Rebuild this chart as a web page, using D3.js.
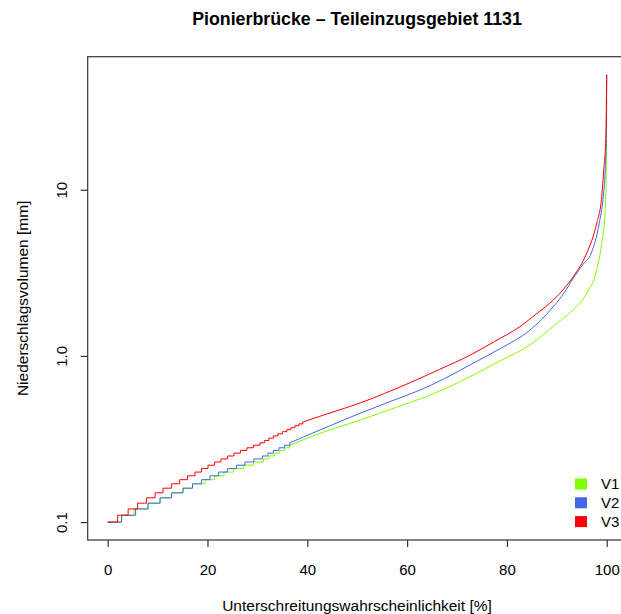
<!DOCTYPE html>
<html>
<head>
<meta charset="utf-8">
<script src="https://cdn.jsdelivr.net/npm/d3@7"></script>
<style>
body { margin: 0; background: #fff; }
svg text { font-family: "Liberation Sans", Arial, Helvetica, sans-serif; }
</style>
</head>
<body>
<script>
// Chart size
var w = 621;
var h = 614;

var seriesNames = ["V1", "V2", "V3"];
var seriesColors = ["#7fff00", "#4169e1", "#ff0000"];

var xTicks = [0, 20, 40, 60, 80, 100];
var yTicks = [0.1, 1, 10];
var yTickLabels = ["0.1", "1.0", "10"];

// low part: percentile where the value goes up one 0.01 mm step (from 0.10)
var stepStart = 0.10;
var stepsV1 = [2.8, 5.3, 8.1, 10.5, 12.8, 15.1, 17.0, 19.5, 21.4, 23.3, 25.2, 27.2, 29.2, 31.2,
    32.3, 33.4, 34.4, 35.5, 36.5];
var stepsV2 = [2.8, 5.6, 8.1, 10.5, 12.8, 15.1, 17.0, 18.8, 20.5, 22.2, 24.0, 25.8, 27.5, 29.3, 31.0,
    32.1, 33.2, 34.3, 35.4, 36.5];
var stepsV3 = [2.0, 4.1, 6.0, 7.8, 9.5, 11.1, 12.8, 14.4, 16.0, 17.5, 18.8, 20.1, 21.4, 22.7,
    24.0, 25.3, 26.6, 27.9, 29.2, 30.5, 31.4, 32.3, 33.2, 34.1, 35.0, 35.9, 36.7, 37.5, 38.3, 39.1];

// upper part: percentile [%] and volume [mm]
var pctV1 = [36.5, 42.5, 50.6, 56.5, 62.6, 67.6, 72.6, 78.5, 84.6, 88.6, 91.0, 93.3, 96.0, 98.0, 99.0, 99.7, 99.9, 100];
var valV1 = [0.29, 0.342, 0.411, 0.475, 0.551, 0.635, 0.75, 0.93, 1.165, 1.45, 1.66, 1.89, 2.39, 3.3, 4.77, 7.6, 12, 35];

var pctV2 = [36.5, 42.5, 50.6, 56.5, 62.8, 67.5, 72.6, 78.5, 84.6, 89.3, 91.5, 93.3, 95.3, 96.9, 98.5, 99.3, 99.7, 99.9, 100];
var valV2 = [0.30, 0.358, 0.452, 0.53, 0.627, 0.73, 0.883, 1.1, 1.43, 1.98, 2.4, 2.94, 3.57, 4.16, 6.3, 9.1, 13.2, 20, 49.3];

var pctV3 = [39.1, 42.5, 46.5, 50.6, 55.5, 60.6, 66.5, 72.6, 77.5, 82.6, 86.0, 89.3, 91.5, 93.3, 96.0, 98.0, 99.0, 99.4, 99.8, 100];
var valV3 = [0.40, 0.433, 0.474, 0.521, 0.595, 0.69, 0.83, 1.01, 1.22, 1.5, 1.8, 2.17, 2.55, 3.0, 4.16, 6.3, 9.1, 13.2, 20, 49.3];

var steps = [stepsV1, stepsV2, stepsV3];
var pcts = [pctV1, pctV2, pctV3];
var vals = [valV1, valV2, valV3];

// plot region
var plotLeft = 87.7, plotTop = 56.7, plotBottom = 540, plotW = 539;

var svg = d3.select("body")
    .append("svg")
    .attr("width", w)
    .attr("height", h);

// R style 4% extension of the ranges
var xScale = d3.scaleLinear()
    .domain([-4, 104])
    .range([plotLeft, plotLeft + plotW]);

var allVals = [stepStart].concat(valV1, valV2, valV3);
var lmin = Math.log10(d3.min(allVals));
var lmax = Math.log10(d3.max(allVals));
var pad = (lmax - lmin) * 0.04;

var yScale = d3.scaleLog()
    .domain([Math.pow(10, lmin - pad), Math.pow(10, lmax + pad)])
    .range([plotBottom, plotTop]);

// curves
for (var s = 0; s < 3; s++) {
    var pts = [[0, stepStart]];
    steps[s].forEach(function (p, i) {
        pts.push([p, stepStart + i * 0.01]);
        pts.push([p, stepStart + (i + 1) * 0.01]);
    });
    var smooth = pcts[s].map((p, i) => [p, vals[s][i]]);

    svg.append("path")
        .attr("d", d3.line().x(d => xScale(d[0])).y(d => yScale(d[1]))(pts))
        .attr("fill", "none")
        .attr("stroke", seriesColors[s])
        .attr("stroke-width", 1);

    svg.append("path")
        .attr("d", d3.line().curve(d3.curveMonotoneX)
            .x(d => xScale(d[0])).y(d => yScale(d[1]))(smooth))
        .attr("fill", "none")
        .attr("stroke", seriesColors[s])
        .attr("stroke-width", 1);
}

// box
svg.append("rect")
    .attr("x", plotLeft)
    .attr("y", plotTop)
    .attr("width", plotW)
    .attr("height", plotBottom - plotTop)
    .attr("fill", "none")
    .attr("stroke", "#333")
    .attr("stroke-width", 1.2);

// x axis
var xAxis = svg.append("g")
    .attr("transform", "translate(0," + plotBottom + ")")
    .call(d3.axisBottom(xScale).tickValues(xTicks).tickSize(7).tickSizeOuter(0));
xAxis.select(".domain").remove();
xAxis.selectAll("line").attr("stroke", "#333").attr("stroke-width", 1.2);
xAxis.selectAll("text")
    .attr("y", 35)
    .attr("dy", 0)
    .attr("font-size", "15px")
    .attr("fill", "#000");

// y axis
var yAxis = svg.append("g")
    .attr("transform", "translate(" + plotLeft + ",0)")
    .call(d3.axisLeft(yScale).tickValues(yTicks).tickFormat((d, i) => yTickLabels[i]).tickSize(7).tickSizeOuter(0));
yAxis.select(".domain").remove();
yAxis.selectAll("line").attr("stroke", "#333").attr("stroke-width", 1.2);
yAxis.selectAll("text")
    .attr("x", 0)
    .attr("dy", 0)
    .attr("transform", "translate(-21,0) rotate(-90)")
    .attr("text-anchor", "middle")
    .attr("font-size", "15px")
    .attr("fill", "#000");

// titles
svg.append("text")
    .attr("x", 357)
    .attr("y", 24.5)
    .attr("text-anchor", "middle")
    .attr("font-size", "17.8px")
    .attr("font-weight", "bold")
    .text("Pionierbrücke – Teileinzugsgebiet 1131");

svg.append("text")
    .attr("x", 357)
    .attr("y", 610.5)
    .attr("text-anchor", "middle")
    .attr("font-size", "15.5px")
    .text("Unterschreitungswahrscheinlichkeit [%]");

svg.append("text")
    .attr("transform", "translate(28," + ((plotTop + plotBottom) / 2) + ") rotate(-90)")
    .attr("text-anchor", "middle")
    .attr("font-size", "15.5px")
    .text("Niederschlagsvolumen [mm]");

// legend
var legend = svg.selectAll(".legend")
    .data(seriesNames)
    .enter()
    .append("g")
    .attr("transform", (d, i) => "translate(581," + (484 + i * 18.8) + ")");

legend.append("rect")
    .attr("x", -6)
    .attr("y", -5.5)
    .attr("width", 12)
    .attr("height", 11)
    .attr("fill", (d, i) => seriesColors[i]);

legend.append("text")
    .attr("x", 20)
    .attr("y", 0)
    .attr("dy", "0.35em")
    .attr("font-size", "15px")
    .text(d => d);
</script>
</body>
</html>
